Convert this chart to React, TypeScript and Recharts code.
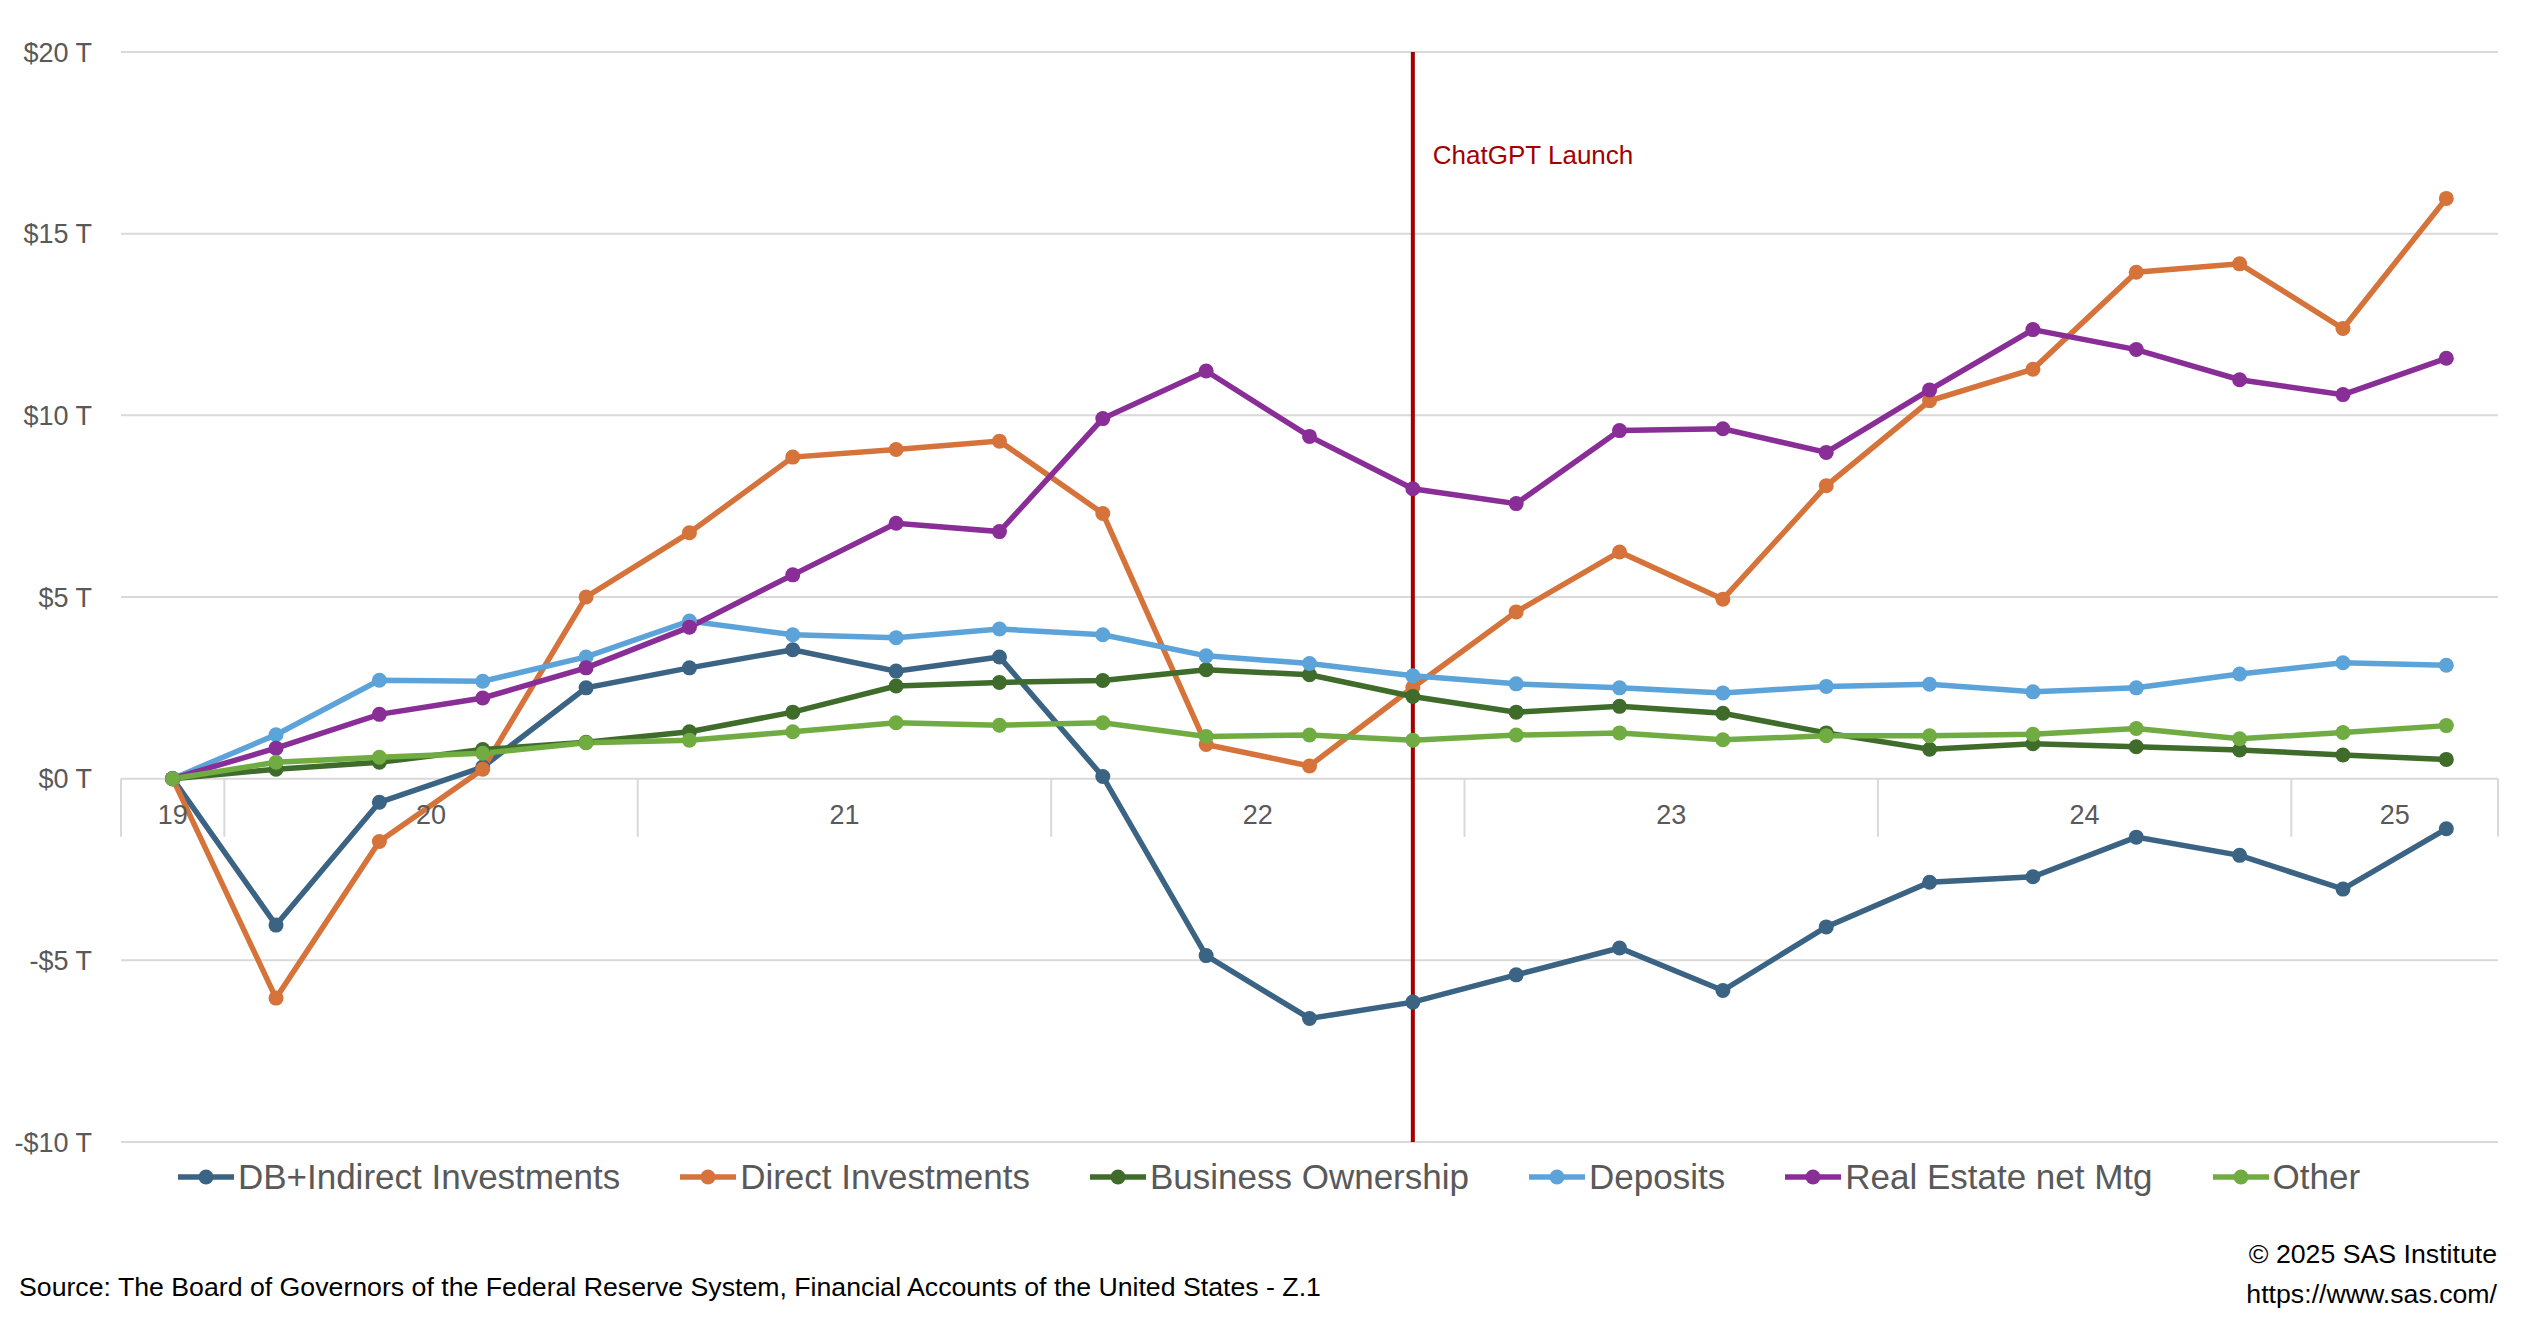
import React from "react";
import {
  LineChart,
  Line,
  XAxis,
  YAxis,
  CartesianGrid,
  Legend,
  ReferenceLine,
  ReferenceDot,
} from "recharts";

// quarterly, change since 2019 Q4, trillions of dollars
const quarters = [
  "2019Q4",
  "2020Q1", "2020Q2", "2020Q3", "2020Q4",
  "2021Q1", "2021Q2", "2021Q3", "2021Q4",
  "2022Q1", "2022Q2", "2022Q3", "2022Q4",
  "2023Q1", "2023Q2", "2023Q3", "2023Q4",
  "2024Q1", "2024Q2", "2024Q3", "2024Q4",
  "2025Q1", "2025Q2",
];
const yearLabels = ["19", "20", "21", "22", "23", "24", "25"];
const quartersPerYear = [1, 4, 4, 4, 4, 4, 2];

const dbIndirect = [0, -4.03, -0.65, 0.32, 2.5, 3.05, 3.55, 2.96, 3.35, 0.06, -4.87, -6.6, -6.15, -5.4, -4.66, -5.83, -4.08, -2.85, -2.7, -1.61, -2.11, -3.04, -1.38];
const directInv = [0, -6.04, -1.73, 0.26, 5.0, 6.77, 8.85, 9.06, 9.29, 7.3, 0.94, 0.35, 2.51, 4.59, 6.24, 4.94, 8.06, 10.4, 11.27, 13.94, 14.17, 12.39, 15.97];
const businessOwn = [0, 0.26, 0.45, 0.8, 1.0, 1.29, 1.83, 2.55, 2.65, 2.7, 3.0, 2.86, 2.26, 1.83, 1.99, 1.8, 1.26, 0.81, 0.96, 0.88, 0.79, 0.65, 0.53];
const deposits = [0, 1.21, 2.71, 2.68, 3.35, 4.34, 3.96, 3.88, 4.12, 3.96, 3.38, 3.17, 2.83, 2.61, 2.5, 2.36, 2.54, 2.6, 2.39, 2.5, 2.88, 3.19, 3.12];
const realEstate = [0, 0.84, 1.77, 2.22, 3.05, 4.17, 5.61, 7.03, 6.8, 9.91, 11.22, 9.42, 7.98, 7.57, 9.58, 9.63, 8.98, 10.7, 12.36, 11.81, 10.98, 10.57, 11.57];
const other = [0, 0.45, 0.59, 0.7, 0.99, 1.06, 1.29, 1.54, 1.47, 1.54, 1.16, 1.2, 1.06, 1.2, 1.26, 1.07, 1.18, 1.18, 1.22, 1.38, 1.1, 1.27, 1.46];

const yTicks = [-10, -5, 0, 5, 10, 15, 20];
const chatGptQuarter = "2022Q4";

const series = [
  { key: "db", name: "DB+Indirect Investments", color: "#3B6383", values: dbIndirect },
  { key: "direct", name: "Direct Investments", color: "#D5733B", values: directInv },
  { key: "business", name: "Business Ownership", color: "#3F6B2B", values: businessOwn },
  { key: "deposits", name: "Deposits", color: "#5CA3D9", values: deposits },
  { key: "realEstate", name: "Real Estate net Mtg", color: "#8A2E97", values: realEstate },
  { key: "other", name: "Other", color: "#70AC42", values: other },
];

const data = quarters.map((q, i) => {
  const row: Record<string, number | string> = { idx: i, q };
  series.forEach((s) => (row[s.key] = s.values[i]));
  return row;
});

// year groups for the two-level category axis
const yearGroups = (() => {
  let start = 0;
  return yearLabels.map((y, i) => {
    const g = { label: y, start, center: start + (quartersPerYear[i] - 1) / 2 };
    start += quartersPerYear[i];
    return g;
  });
})();
const separators = [...yearGroups.map((g) => g.start - 0.5), quarters.length - 0.5];

const FONT = "'Liberation Sans', Arial, sans-serif";
const GRID = "#D9D9D9";

const fmtY = (v: number) => `${v < 0 ? "-" : ""}$${Math.abs(v)} T`;

function LegendContent() {
  return (
    <div
      style={{
        display: "flex",
        justifyContent: "center",
        gap: 60,
        paddingTop: 15,
        paddingLeft: 40,
        fontFamily: FONT,
        fontSize: 35,
        color: "#595959",
      }}
    >
      {series.map((s) => (
        <div key={s.key} style={{ display: "flex", alignItems: "center" }}>
          <svg width={56} height={20} style={{ marginRight: 4 }}>
            <line x1={0} y1={10} x2={56} y2={10} stroke={s.color} strokeWidth={5.5} />
            <circle cx={28} cy={10} r={7.5} fill={s.color} />
          </svg>
          <span>{s.name}</span>
        </div>
      ))}
    </div>
  );
}

export default function App() {
  const xIdx = (q: string) => quarters.indexOf(q);
  const zeroTick = 1.6;

  return (
    <div style={{ position: "absolute", left: 0, top: 0, width: 2530, height: 1319, background: "#fff" }}>
      <LineChart
        width={2530}
        height={1230}
        data={data}
        margin={{ top: 52, right: 32, left: 0, bottom: 0 }}
      >
        <CartesianGrid vertical={false} stroke={GRID} strokeWidth={2} />
        <XAxis type="number" dataKey="idx" domain={[-0.5, quarters.length - 0.5]} hide />
        <YAxis
          width={121}
          domain={[-10, 20]}
          ticks={yTicks}
          tickFormatter={fmtY}
          axisLine={false}
          tickLine={false}
          tickSize={0}
          tickMargin={29}
          tick={{ fill: "#595959", fontSize: 27, fontFamily: FONT }}
        />
        {separators.map((x) => (
          <ReferenceLine
            key={"sep" + x}
            segment={[{ x, y: 0 }, { x, y: -zeroTick }]}
            stroke={GRID}
            strokeWidth={2}
          />
        ))}
        {yearGroups.map((g) => (
          <ReferenceDot
            key={"yr" + g.label}
            x={g.center}
            y={0}
            r={0}
            fill="none"
            stroke="none"
            label={{
              value: g.label,
              position: "bottom",
              offset: 26,
              fill: "#595959",
              fontSize: 27,
              fontFamily: FONT,
            }}
          />
        ))}
        <Legend verticalAlign="bottom" height={88} content={<LegendContent />} />
        {series.map((s) => (
          <Line
            key={s.key}
            type="linear"
            dataKey={s.key}
            name={s.name}
            stroke={s.color}
            strokeWidth={5.5}
            dot={{ r: 7.5, fill: s.color, stroke: s.color, strokeWidth: 0 }}
            activeDot={false}
            isAnimationActive={false}
          />
        ))}
        <ReferenceLine
          x={xIdx(chatGptQuarter)}
          stroke="#A30000"
          strokeWidth={4}
          label={{
            value: "ChatGPT Launch",
            position: "insideTopLeft",
            offset: 0,
            dx: 20,
            dy: 94,
            fill: "#A30000",
            fontSize: 26,
            fontFamily: FONT,
          }}
        />
      </LineChart>
      <div
        style={{
          position: "absolute",
          left: 19,
          top: 1272,
          fontFamily: FONT,
          fontSize: 26.7,
          color: "#000",
          whiteSpace: "nowrap",
        }}
      >
        Source: The Board of Governors of the Federal Reserve System, Financial Accounts of the United States - Z.1
      </div>
      <div
        style={{
          position: "absolute",
          right: 33,
          top: 1234,
          fontFamily: FONT,
          fontSize: 26.7,
          color: "#000",
          textAlign: "right",
          lineHeight: "40px",
        }}
      >
        <div>© 2025 SAS Institute</div>
        <div>https://www.sas.com/</div>
      </div>
    </div>
  );
}
